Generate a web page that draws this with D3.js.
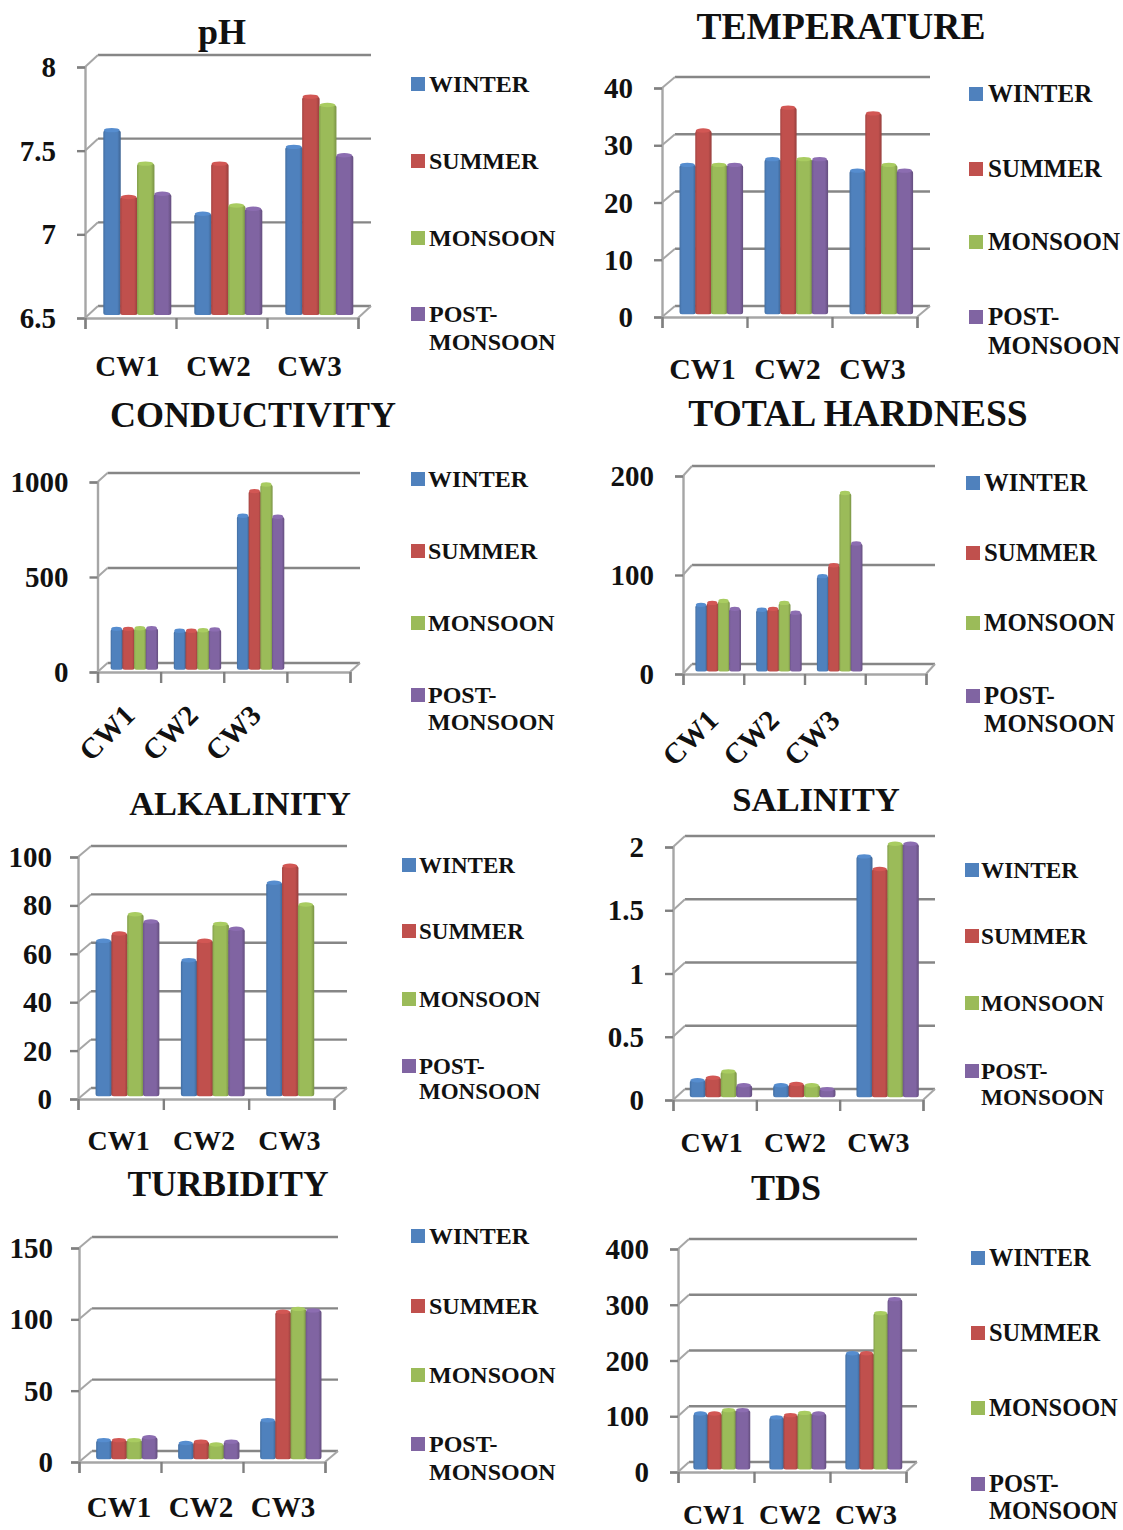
<!DOCTYPE html>
<html>
<head>
<meta charset="utf-8">
<title>Water quality parameters by season</title>
<script src="https://cdn.jsdelivr.net/npm/d3@7"></script>
<style>
  html, body { margin: 0; padding: 0; background: #fff; }
  svg { display: block; }
  text { font-family: "Liberation Serif", "Times New Roman", serif; font-weight: 700; fill: #111; }
</style>
</head>
<body>
<svg id="chart" width="1123" height="1530"></svg>
<script>
// Sampling sites and seasons
const sites = ["CW1", "CW2", "CW3"];
const sitesWithBlank = ["CW1", "CW2", "CW3", ""];
const seasons = ["WINTER", "SUMMER", "MONSOON", "POST-MONSOON"];
const seasonColors = ["#4F81BD", "#C0504D", "#9BBB59", "#8064A2"];

// Each list holds one row per season, one value per site
const phValues = [[7.6, 7.1, 7.5], [7.2, 7.4, 7.8], [7.4, 7.15, 7.75], [7.22, 7.13, 7.45]];
const temperatureValues = [[26, 27, 25], [32, 36, 35], [26, 27, 26], [26, 27, 25]];
const conductivityValues = [[215, 205, 810], [215, 205, 940], [218, 208, 975], [218, 212, 805]];
const hardnessValues = [[67, 62, 96], [69, 63, 107], [71, 69, 180], [63, 59, 129]];
const alkalinityValues = [[64, 56, 88], [67, 64, 95], [75, 71, 79], [72, 69, null]];
const salinityValues = [[0.13, 0.09, 1.9], [0.15, 0.1, 1.8], [0.2, 0.09, 2], [0.09, 0.06, 2]];
const turbidityValues = [[13, 11, 27], [13, 12, 103], [13, 10, 105], [15, 12, 104]];
const tdsValues = [[100, 93, 208], [100, 97, 208], [106, 101, 280], [106, 100, 305]];

// Value-axis tick labels
const phTicks = [6.5, 7, 7.5, 8];
const temperatureTicks = [0, 10, 20, 30, 40];
const conductivityTicks = [0, 500, 1000];
const hardnessTicks = [0, 100, 200];
const alkalinityTicks = [0, 20, 40, 60, 80, 100];
const salinityTicks = [0, 0.5, 1, 1.5, 2];
const turbidityTicks = [0, 50, 100, 150];
const tdsTicks = [0, 100, 200, 300, 400];

// Page layout of the eight small charts
const panels = [
  { title: "pH", values: phValues, ticks: phTicks, cats: sites,
    x0: 85, x1: 358, yTop: 67, yBot: 318, dx: 13, dy: 12, tickPad: 21,
    titleX: 222, titleY: 32, titleSize: 36,
    labelY: 366, labelDx: -3, labelSize: 29,
    swatchX: 411, textX: 429, legendSize: 24, lineGap: 28.5, legendY: [84, 161, 238, 314] },
  { title: "TEMPERATURE", values: temperatureValues, ticks: temperatureTicks, cats: sites,
    x0: 662, x1: 917, yTop: 88, yBot: 317, dx: 13, dy: 11, tickPad: 21,
    titleX: 841, titleY: 27, titleSize: 37.5,
    labelY: 369, labelDx: -2, labelSize: 30,
    swatchX: 969, textX: 988, legendSize: 25, lineGap: 29, legendY: [94, 169, 242, 317] },
  { title: "CONDUCTIVITY", values: conductivityValues, ticks: conductivityTicks, cats: sitesWithBlank,
    x0: 97.5, x1: 350, yTop: 482, yBot: 672, dx: 10, dy: 9, tickPad: 21,
    titleX: 253, titleY: 415, titleSize: 36,
    rotatedLabelY: 733, labelDx: -22, labelSize: 29,
    swatchX: 411, textX: 428, legendSize: 24, lineGap: 27.5, legendY: [479, 551, 623, 695] },
  { title: "TOTAL HARDNESS", values: hardnessValues, ticks: hardnessTicks, cats: sitesWithBlank,
    x0: 683, x1: 926, yTop: 476, yBot: 674, dx: 9, dy: 10, tickPad: 21,
    titleX: 858, titleY: 414, titleSize: 37.5,
    rotatedLabelY: 738, labelDx: -23, labelSize: 29,
    swatchX: 966, textX: 984, legendSize: 24.8, lineGap: 28, legendY: [483, 553, 623, 696] },
  { title: "ALKALINITY", values: alkalinityValues, ticks: alkalinityTicks, cats: sites,
    x0: 78, x1: 334, yTop: 857, yBot: 1099, dx: 13, dy: 11, tickPad: 18,
    titleX: 240, titleY: 804, titleSize: 34.4,
    labelY: 1141, labelDx: -2, labelSize: 28,
    swatchX: 402, textX: 419, legendSize: 23, lineGap: 25, legendY: [865, 931, 999, 1066] },
  { title: "SALINITY", values: salinityValues, ticks: salinityTicks, cats: sites,
    x0: 673, x1: 923, yTop: 847, yBot: 1100, dx: 12, dy: 11, tickPad: 21,
    titleX: 816, titleY: 800, titleSize: 34.7,
    labelY: 1143, labelDx: -3, labelSize: 28,
    swatchX: 965, textX: 981, legendSize: 23.3, lineGap: 26, legendY: [870, 936, 1003, 1071] },
  { title: "TURBIDITY", values: turbidityValues, ticks: turbidityTicks, cats: sites,
    x0: 79, x1: 325, yTop: 1248, yBot: 1462, dx: 13, dy: 11, tickPad: 18,
    titleX: 228, titleY: 1184, titleSize: 35.5,
    labelY: 1507, labelDx: -1, labelSize: 29,
    swatchX: 411, textX: 429, legendSize: 24, lineGap: 28.5, legendY: [1236, 1306, 1375, 1444] },
  { title: "TDS", values: tdsValues, ticks: tdsTicks, cats: sites,
    x0: 678, x1: 906, yTop: 1249, yBot: 1472, dx: 11, dy: 10, tickPad: 21,
    titleX: 786, titleY: 1188, titleSize: 36,
    labelY: 1515, labelDx: -2, labelSize: 28,
    swatchX: 971, textX: 989, legendSize: 24.4, lineGap: 27, legendY: [1258, 1333, 1408, 1484] }
];

const svg = d3.select("#chart");
const defs = svg.append("defs");

// Horizontal shading that gives the columns their rounded look
seasonColors.forEach((color, i) => {
  const g = defs.append("linearGradient").attr("id", "shade" + i);
  const stops = [
    [0, d3.color(color).darker(0.45)],
    [0.14, d3.color(color)],
    [0.8, d3.color(color)],
    [1, d3.color(color).darker(0.7)]
  ];
  stops.forEach(([o, c]) => g.append("stop").attr("offset", o).attr("stop-color", c));
});

function drawPanel(p) {
  const g = svg.append("g");
  const y = d3.scaleLinear().domain(d3.extent(p.ticks)).range([p.yBot, p.yTop]);
  const x = d3.scaleBand().domain(p.cats).range([p.x0, p.x1]);
  const inner = d3.scaleBand().domain(d3.range(seasons.length))
    .range([0, x.bandwidth()]).paddingOuter(0.7).paddingInner(0);

  // Back wall gridlines with their diagonal run along the side wall
  const wall = d3.line();
  p.ticks.forEach(t => {
    g.append("path")
      .attr("d", wall([[p.x0 + p.dx, y(t) - p.dy], [p.x1 + p.dx, y(t) - p.dy]]))
      .attr("fill", "none").attr("stroke", "#868686").attr("stroke-width", 2.4);
    g.append("path")
      .attr("d", wall([[p.x0, y(t)], [p.x0 + p.dx, y(t) - p.dy]]))
      .attr("fill", "none").attr("stroke", "#a6a6a6").attr("stroke-width", 2);
  });

  // Right edge of the floor
  g.append("path")
    .attr("d", wall([[p.x1, p.yBot], [p.x1 + p.dx, p.yBot - p.dy]]))
    .attr("fill", "none").attr("stroke", "#a6a6a6").attr("stroke-width", 2);

  // Value axis
  const yAxis = g.append("g").attr("transform", `translate(${p.x0},0)`)
    .call(d3.axisLeft(y).tickValues(p.ticks).tickSize(8).tickPadding(p.tickPad).tickFormat(d3.format("")));
  yAxis.select(".domain").attr("stroke", "#a6a6a6").attr("stroke-width", 2.4);
  yAxis.selectAll(".tick line").attr("stroke", "#808080").attr("stroke-width", 2.4);
  yAxis.selectAll(".tick text").attr("font-size", 29).attr("dy", "0.33em")
    .style("font-family", '"Liberation Serif", serif').style("font-weight", 700).attr("fill", "#111");

  // Category axis: tick marks sit on the boundaries between sites
  const slots = d3.range(p.cats.length + 1);
  const edge = d3.scalePoint().domain(slots).range([p.x0, p.x1]);
  const xAxis = g.append("g").attr("transform", `translate(0,${p.yBot})`)
    .call(d3.axisBottom(edge).tickSize(11).tickFormat(""));
  xAxis.select(".domain").attr("stroke", "#a6a6a6").attr("stroke-width", 2.4);
  xAxis.selectAll(".tick line").attr("stroke", "#808080").attr("stroke-width", 2.4);

  // Columns
  const base = p.yBot - p.dy / 4;
  const capHeight = 2.2;
  seasons.forEach((s, si) => {
    const rows = p.cats.map((c, ci) => ({ cat: c, v: p.values[si][ci] }))
      .filter(d => d.cat !== "" && d.v !== null && d.v !== undefined);
    const top = d => y(d.v) - p.dy / 2 + capHeight;
    const col = g.append("g");
    col.selectAll("rect").data(rows).join("rect")
      .attr("x", d => x(d.cat) + inner(si) + p.dx / 2)
      .attr("y", top)
      .attr("width", inner.bandwidth() + 0.6)
      .attr("height", d => base - top(d))
      .attr("rx", 2.5)
      .attr("fill", `url(#shade${si})`);
    col.selectAll("ellipse").data(rows).join("ellipse")
      .attr("cx", d => x(d.cat) + inner(si) + p.dx / 2 + inner.bandwidth() / 2)
      .attr("cy", top)
      .attr("rx", inner.bandwidth() / 2 - 0.5)
      .attr("ry", capHeight)
      .attr("fill", d3.color(seasonColors[si]).brighter(0.25));
  });

  // Category labels
  p.cats.filter(c => c !== "").forEach(c => {
    const cx = x(c) + x.bandwidth() / 2 + p.labelDx;
    if (p.rotatedLabelY) {
      g.append("text").attr("text-anchor", "middle").attr("font-size", p.labelSize)
        .attr("transform", `translate(${cx},${p.rotatedLabelY}) rotate(-45)`)
        .attr("dy", "0.33em").text(c);
    } else {
      g.append("text").attr("text-anchor", "middle").attr("font-size", p.labelSize)
        .attr("x", cx).attr("y", p.labelY).attr("dy", "0.33em").text(c);
    }
  });

  // Title
  g.append("text").attr("text-anchor", "middle").attr("font-size", p.titleSize)
    .attr("x", p.titleX).attr("y", p.titleY).attr("dy", "0.33em").text(p.title);

  // Legend; the long season name breaks after its hyphen
  seasons.forEach((s, i) => {
    const ly = p.legendY[i];
    g.append("rect").attr("x", p.swatchX).attr("y", ly - 7).attr("width", 14).attr("height", 14)
      .attr("fill", seasonColors[i]);
    const parts = s.includes("-") ? [s.slice(0, s.indexOf("-") + 1), s.slice(s.indexOf("-") + 1)] : [s];
    parts.forEach((t, k) => {
      g.append("text").attr("x", p.textX).attr("y", ly + k * p.lineGap).attr("dy", "0.33em")
        .attr("font-size", p.legendSize).text(t);
    });
  });
}

panels.forEach(drawPanel);
</script>
</body>
</html>
